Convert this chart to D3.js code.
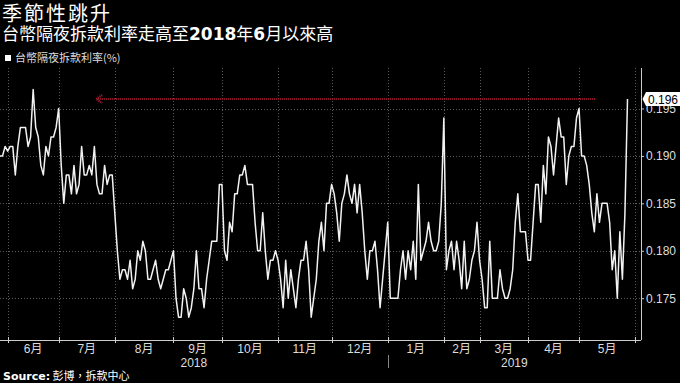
<!DOCTYPE html>
<html><head><meta charset="utf-8">
<script src="https://cdn.jsdelivr.net/npm/d3@7"></script>
<style>
html,body{margin:0;padding:0;background:#000;}
svg{display:block;}
</style></head>
<body><svg id="c" width="680" height="383"></svg>
<script>
// ---- data (trading-day series, late May 2018 – late May 2019) ----
const values = [
0.190,0.190,0.191,0.1905,0.191,0.191,0.188,0.191,0.193,0.193,
0.193,0.191,0.192,0.197,0.193,0.192,0.189,0.188,0.191,0.190,
0.192,0.192,0.193,0.195,0.189,0.185,0.188,0.188,0.186,0.189,
0.186,0.187,0.191,0.188,0.188,0.189,0.188,0.191,0.187,0.186,
0.186,0.189,0.187,0.188,0.188,0.184,0.180,0.177,0.178,0.178,
0.177,0.179,0.176,0.177,0.180,0.179,0.181,0.180,0.177,0.177,
0.178,0.179,0.177,0.176,0.177,0.178,0.178,0.179,0.180,0.175,
0.173,0.173,0.176,0.175,0.173,0.174,0.176,0.180,0.176,0.176,
0.174,0.177,0.179,0.181,0.181,0.181,0.187,0.187,0.180,0.179,
0.183,0.182,0.186,0.186,0.188,0.188,0.189,0.187,0.187,0.187,
0.183,0.180,0.180,0.184,0.180,0.177,0.179,0.179,0.180,0.179,
0.177,0.174,0.179,0.175,0.178,0.176,0.174,0.177,0.179,0.179,
0.181,0.178,0.173,0.175,0.177,0.181,0.183,0.180,0.185,0.185,
0.187,0.186,0.184,0.181,0.185,0.186,0.188,0.186,0.185,0.187,
0.184,0.187,0.184,0.180,0.177,0.180,0.180,0.181,0.178,0.174,
0.177,0.180,0.183,0.175,0.175,0.175,0.175,0.178,0.180,0.177,
0.180,0.178,0.181,0.177,0.187,0.179,0.180,0.181,0.183,0.181,
0.180,0.180,0.181,0.185,0.194,0.178,0.180,0.181,0.178,0.181,
0.179,0.176,0.181,0.176,0.177,0.179,0.180,0.183,0.179,0.177,
0.174,0.174,0.181,0.175,0.175,0.175,0.178,0.176,0.175,0.175,
0.176,0.178,0.183,0.186,0.182,0.182,0.182,0.179,0.179,0.183,
0.187,0.187,0.183,0.189,0.186,0.192,0.191,0.188,0.191,0.194,
0.192,0.192,0.187,0.190,0.191,0.191,0.194,0.195,0.190,0.190,
0.189,0.187,0.184,0.182,0.186,0.183,0.185,0.185,0.185,0.183,
0.178,0.180,0.175,0.182,0.177,0.184,0.196
];
const monthLabels = ["6月","7月","8月","9月","10月","11月","12月","1月","2月","3月","4月","5月"];
const monthStartIdx = [3,23,45,68,87,109,130,152,174,188,207,227,249];
const yearLabels = ["2018","2019"];
const yearStartIdx = [0,152];
const yTicks = [0.175,0.180,0.185,0.190,0.195];
const arrowLevel = 0.196;
const arrowSpan = [37.7,233.5];

const title = "季節性跳升";
const subtitleParts = [["台幣隔夜拆款利率走高至",false],["2018",true],["年",false],["6",true],["月以來高",false]];
const legendLabel = "台幣隔夜拆款利率(%)";
const sourceBold = "Source:";
const sourceText = " 彭博，拆款中心";

// ---- layout ----
const svg = d3.select("#c");
const W = 680, H = 383;
const plotLeft = 0, plotRight = 641, plotTop = 68, plotBottom = 340;
const CJK = "'Noto Sans CJK TC','Noto Sans CJK SC',sans-serif";
const NUM = "'Liberation Sans','Noto Sans CJK TC',sans-serif";

svg.append("rect").attr("width",W).attr("height",H).attr("fill","#000");

const x = d3.scaleLinear().domain([0, 246]).range([0, 627.5]);
const y = d3.scaleLinear().domain([0.175, 0.195]).range([298.2, 108.5]);

// titles
svg.append("text").attr("x",2).attr("y",20.5).attr("fill","#fff")
  .attr("font-family",CJK).attr("font-size",20).attr("letter-spacing",2).text(title);
const st = svg.append("text").attr("x",2).attr("y",40).attr("fill","#fff")
  .attr("font-family",CJK).attr("font-size",17);
subtitleParts.forEach(([t,b])=>{
  st.append("tspan").attr("font-weight",b?"bold":"normal")
    .attr("font-family", b ? "'DejaVu Sans',sans-serif" : CJK).text(t);
});

// legend
svg.append("rect").attr("x",5).attr("y",55).attr("width",6).attr("height",6).attr("fill","#fff");
svg.append("text").attr("x",15).attr("y",62).attr("fill","#ddd")
  .attr("font-family",CJK).attr("font-size",11).text(legendLabel);

// grid
const grid = svg.append("g").attr("stroke","#5a5a5a").attr("stroke-width",1)
  .attr("stroke-dasharray","1,2").attr("shape-rendering","crispEdges");
grid.selectAll("line.h").data(yTicks).join("line").attr("class","h")
  .attr("x1",plotLeft).attr("x2",plotRight)
  .attr("y1",d=>Math.round(y(d))+0.5).attr("y2",d=>Math.round(y(d))+0.5);
grid.selectAll("line.v").data(monthStartIdx).join("line").attr("class","v")
  .attr("x1",d=>Math.round(x(d))+0.5).attr("x2",d=>Math.round(x(d))+0.5)
  .attr("y1",plotTop).attr("y2",plotBottom);

// bottom axis
const bx = svg.append("g");
bx.append("line").attr("x1",0).attr("x2",plotRight).attr("y1",plotBottom+0.5).attr("y2",plotBottom+0.5)
  .attr("stroke","#ccc").attr("stroke-width",1);
bx.selectAll("line.t").data(monthStartIdx).join("line").attr("class","t")
  .attr("x1",d=>Math.round(x(d))+0.5).attr("x2",d=>Math.round(x(d))+0.5)
  .attr("y1",plotBottom-3).attr("y2",plotBottom+3).attr("stroke","#ccc");
bx.selectAll("text.m").data(monthLabels).join("text").attr("class","m")
  .attr("x",(d,i)=>(x(monthStartIdx[i])+x(monthStartIdx[i+1]))/2)
  .attr("y",353).attr("text-anchor","middle").attr("fill","#ddd")
  .attr("font-family",NUM).attr("font-size",12).text(d=>d);
bx.selectAll("text.yr").data(yearLabels).join("text").attr("class","yr")
  .attr("x",(d,i)=>{const a=x(yearStartIdx[i]); const b= i+1<yearStartIdx.length ? x(yearStartIdx[i+1]) : plotRight; return (a+b)/2;})
  .attr("y",367).attr("text-anchor","middle").attr("fill","#ddd")
  .attr("font-family",NUM).attr("font-size",12).text(d=>d);
bx.selectAll("line.ys").data(yearStartIdx.slice(1)).join("line").attr("class","ys")
  .attr("x1",d=>Math.round(x(d))+0.5).attr("x2",d=>Math.round(x(d))+0.5)
  .attr("y1",355).attr("y2",368).attr("stroke","#888");

// right axis
const ra = svg.append("g").attr("transform",`translate(${plotRight},0)`)
  .call(d3.axisRight(y).tickValues(yTicks).tickFormat(d3.format(".3f")).tickSize(3).tickPadding(2));
ra.select(".domain").remove();
ra.selectAll(".tick line").attr("stroke","#ccc");
ra.selectAll(".tick text").attr("fill","#ddd").attr("font-family",NUM).attr("font-size",12);
svg.append("line").attr("x1",plotRight+0.5).attr("x2",plotRight+0.5).attr("y1",plotTop).attr("y2",plotBottom)
  .attr("stroke","#ccc");

// arrow annotation
const ay = y(arrowLevel);
const arrowColor = "#9e1a32";
svg.append("line").attr("x1",x(arrowSpan[0])+2).attr("x2",x(arrowSpan[1]))
  .attr("y1",ay).attr("y2",ay).attr("stroke",arrowColor).attr("stroke-width",2)
  .attr("stroke-dasharray","1,1");
svg.append("path")
  .attr("d",`M${x(arrowSpan[0])+6},${ay-4} L${x(arrowSpan[0])},${ay} L${x(arrowSpan[0])+6},${ay+4}`)
  .attr("fill","none").attr("stroke",arrowColor).attr("stroke-width",2.2).attr("stroke-dasharray","1.2,0.8");

// series line
svg.append("path").datum(values)
  .attr("d", d3.line().x((d,i)=>x(i)).y(d=>y(d)))
  .attr("fill","none").attr("stroke","#f2f2f2").attr("stroke-width",1.5).attr("stroke-linejoin","round");

// last value callout
const last = values[values.length-1];
const ly = y(last);
svg.append("path")
  .attr("d",`M${plotRight+1.5},${ly} L${plotRight+5},${ly-7} L${W},${ly-7} L${W},${ly+7} L${plotRight+5},${ly+7} Z`)
  .attr("fill","#fff");
svg.append("text").attr("x",plotRight+7).attr("y",ly+4.5).attr("fill","#000")
  .attr("font-family",NUM).attr("font-size",12).text(d3.format(".3f")(last));

// source
const src = svg.append("text").attr("x",3).attr("y",380).attr("fill","#fff")
  .attr("font-size",11).attr("font-family",CJK);
src.append("tspan").attr("font-weight","bold").attr("font-family","'DejaVu Sans',sans-serif").text(sourceBold);
src.append("tspan").text(sourceText);
</script>
</body></html>
